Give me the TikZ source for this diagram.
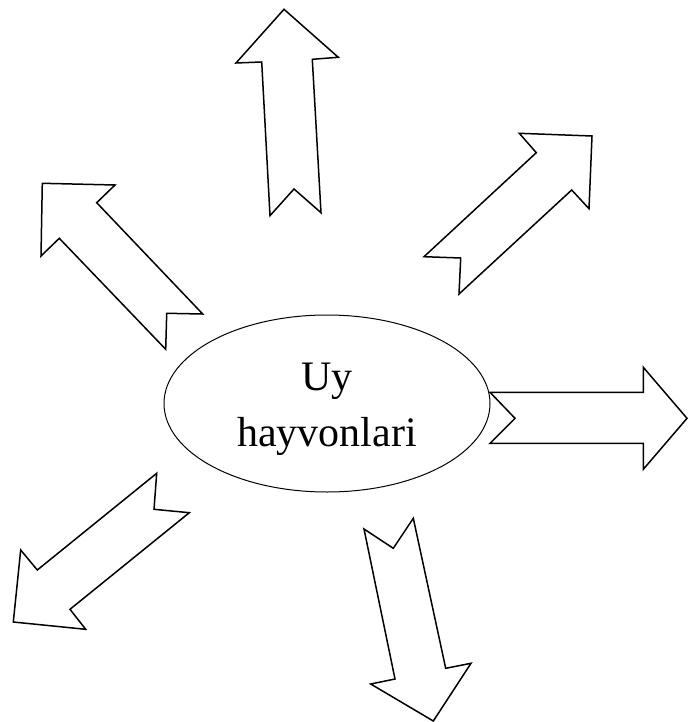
\documentclass[tikz,border=0pt]{standalone}
\usepackage{fontspec}
\setmainfont{Liberation Serif}
\usetikzlibrary{shapes.geometric}
\begin{document}
\begin{tikzpicture}[x=1pt,y=-1pt,
  bigarrow/.style={draw=black,line width=1.5pt,fill=white,line join=miter},
  hub/.style={draw=black,line width=1pt,ellipse,minimum width=326pt,minimum height=177pt,inner sep=0pt},
  hubtext/.style={font=\fontsize{42}{50}\selectfont,anchor=base,inner sep=0pt}]
\useasboundingbox (0,0) rectangle (688,722);
% up
\draw[bigarrow] (284,9.3) -- (338.3,57.3) -- (312.3,59.3) -- (321,212.7) -- (294,189) -- (270,215.7) -- (261.7,62) -- (236,63) -- cycle;
% upper right
\draw[bigarrow] (592,136) -- (589,208.7) -- (571.7,190) -- (459,294) -- (460.7,258) -- (424,256.7) -- (536.3,152.7) -- (519.3,133.3) -- cycle;
% upper left
\draw[bigarrow] (42.3,183.3) -- (115,185) -- (96.7,202.7) -- (202.7,314) -- (166.7,313.3) -- (165.7,349.3) -- (59.3,238.3) -- (41,256) -- cycle;
% right
\draw[bigarrow] (687,418.3) -- (643.3,469.3) -- (643.3,443.3) -- (490,443.3) -- (515,418.3) -- (490,392.3) -- (643.3,392.3) -- (643.3,367.3) -- cycle;
% lower left
\draw[bigarrow] (13.3,622) -- (20.7,550) -- (37.3,570) -- (156.7,473.3) -- (154,509.3) -- (189.3,512.7) -- (70,609.3) -- (85.7,629.3) -- cycle;
% down
\draw[bigarrow] (433.3,721) -- (370.7,684) -- (395,679) -- (364,529) -- (393.3,548.3) -- (413.3,518.3) -- (445.7,668.3) -- (471,663.3) -- cycle;
% centre
\node[hub] (hub) at (327,403.5) {};
\node[hubtext] (l1) at (327,390) {Uy};
\node[hubtext] (l2) at (327,446) {hayvonlari};
\end{tikzpicture}
\end{document}
